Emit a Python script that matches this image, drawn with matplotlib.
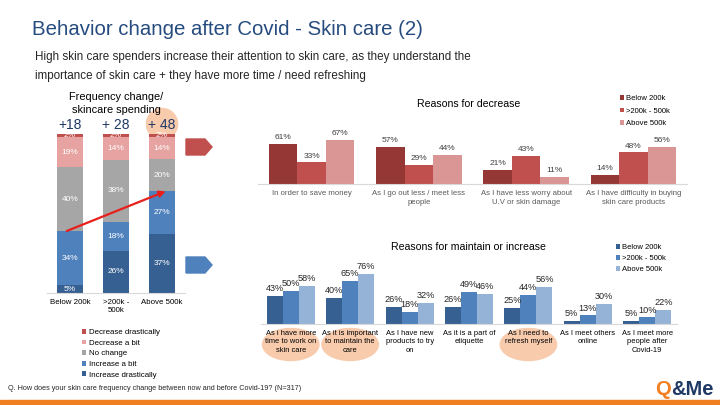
import matplotlib
matplotlib.use('Agg')
import matplotlib.pyplot as plt
from matplotlib.patches import Ellipse, Polygon, Rectangle
from matplotlib.transforms import blended_transform_factory
import numpy as np

plt.rcParams['font.family'] = ['Liberation Sans', 'DejaVu Sans']

# ---------------- data ----------------
spend_groups = ['Below 200k', '>200k -\n500k', 'Above 500k']
freq_levels = ['Decrease drastically', 'Decrease a bit', 'No change',
               'Increase a bit', 'Increase drastically']
dec_drastic = [2, 2, 2]
dec_bit = [19, 14, 14]
no_change = [40, 38, 20]
inc_bit = [34, 18, 27]
inc_drastic = [5, 26, 37]
net_change = ['+18', '+ 28', '+ 48']

income_groups = ['Below 200k', '>200k - 500k', 'Above 500k']

dec_reasons = ['In order to save money',
               'As I go out less / meet less\npeople',
               'As I have less worry about\nU.V or skin damage',
               'As I have difficulty in buying\nskin care products']
dec_below = [61, 57, 21, 14]
dec_mid = [33, 29, 43, 48]
dec_above = [67, 44, 11, 56]

inc_reasons = ['As i have more\ntime to work on\nskin care',
               'As it is important\nto maintain the\ncare',
               'As I have new\nproducts to try\non',
               'As it is a part of\netiquette',
               'As I need to\nrefresh myself',
               'As I meet others\nonline',
               'As I meet more\npeople after\nCovid-19']
inc_below = [43, 40, 26, 26, 25, 5, 5]
inc_mid = [50, 65, 18, 49, 44, 13, 10]
inc_above = [58, 76, 32, 46, 56, 30, 22]
highlighted = [0, 1, 4]

# ---------------- figure ----------------
W, H = 720, 405
fig = plt.figure(figsize=(W / 100, H / 100), dpi=100)
fig.patch.set_facecolor('white')


def X(px):
    return px / W


def Y(py):
    return 1 - py / H


def rect(l, t, r, b):
    return [l / W, 1 - b / H, (r - l) / W, (b - t) / H]


NAVY = '#1F3864'
PEACH = '#F8CBAD'
ORANGE = '#F07F21'


def style_axis(ax):
    ax.patch.set_visible(False)
    for s in ['top', 'right', 'left']:
        ax.spines[s].set_visible(False)
    ax.spines['bottom'].set_color('#D9D9D9')
    ax.spines['bottom'].set_linewidth(0.8)
    ax.set_yticks([])
    ax.tick_params(axis='x', length=0)


# ---- titles ----
fig.text(X(32), Y(35), 'Behavior change after Covid - Skin care (2)',
         fontsize=14.7, color='#264B7E', va='baseline', ha='left')
fig.text(X(35), Y(60), 'High skin care spenders increase their attention to skin care, as they understand the',
         fontsize=8.4, color='#262626', va='baseline', ha='left')
fig.text(X(35), Y(79), 'importance of skin care + they have more time / need refreshing',
         fontsize=8.4, color='#262626', va='baseline', ha='left')

# ---- left stacked chart ----
axL = fig.add_axes(rect(47, 134, 185, 293))
style_axis(axL)
xL = np.arange(len(spend_groups))
stack_series = [inc_drastic, inc_bit, no_change, dec_bit, dec_drastic]
stack_names = freq_levels[::-1]
stack_colors = ['#376092', '#4F81BD', '#A6A6A6', '#E6A3A1', '#C0504D']
totals = np.sum(np.array(stack_series, dtype=float), axis=0)
bottom = np.zeros(len(spend_groups))
handles = {}
for vals, name, col in zip(stack_series, stack_names, stack_colors):
    h = np.array(vals, dtype=float) / totals * 100
    bars = axL.bar(xL, h, 0.565, bottom=bottom, color=col, label=name, zorder=2)
    handles[name] = bars
    for xi, b, hh, v in zip(xL, bottom, h, vals):
        axL.text(xi, b + hh / 2, f'{v}%', ha='center', va='center',
                 color='white', fontsize=6, zorder=3)
    bottom += h
axL.set_xlim(-0.5, 2.5)
axL.set_ylim(0, 100)
axL.set_xticks(xL, spend_groups, fontsize=5.7, linespacing=1.3)
axL.tick_params(axis='x', pad=4)

for xi, lab in zip(xL, net_change):
    axL.text(xi, 105.8, lab, ha='center', va='center', fontsize=10,
             color=NAVY, clip_on=False, zorder=4)
axL.add_patch(Ellipse((xL[-1], 106.3), 0.68, 19.5, color=PEACH,
                      zorder=1, clip_on=False))
y0 = inc_drastic[0] + inc_bit[0]
y1 = (inc_drastic[-1] + inc_bit[-1]) / totals[-1] * 100
axL.annotate('', xy=(2.08, y1), xytext=(-0.07, y0),
             arrowprops=dict(arrowstyle='-|>', color='#E8201C', lw=1.6,
                             mutation_scale=9, shrinkA=0, shrinkB=0),
             zorder=5)
fig.text(X(116), Y(103.5), 'Frequency change/\nskincare spending', ha='center',
         va='center', fontsize=7.9, color='black', linespacing=1.4)
axL.legend(handles=[handles[n] for n in freq_levels], labels=freq_levels,
           loc='upper left', bbox_to_anchor=(X(82), Y(329)),
           bbox_transform=fig.transFigure, frameon=False, fontsize=5.7,
           handlelength=0.55, handleheight=0.55, handletextpad=0.3,
           labelspacing=0.43, borderpad=0, borderaxespad=0)

# ---- pentagon arrows ----
for top, col in [(139, '#C0504D'), (257, '#4F81BD')]:
    pts = [(186, top), (205, top), (212, top + 8), (205, top + 16), (186, top + 16)]
    fig.add_artist(Polygon([(X(a), Y(b)) for a, b in pts], closed=True,
                           color=col, transform=fig.transFigure))

# ---- upper chart: reasons for decrease ----
axU = fig.add_axes(rect(258, 118.3, 687, 184))
style_axis(axU)
xU = np.arange(len(dec_reasons))
wU = 0.266
for off, vals, col, name in zip([-wU, 0, wU], [dec_below, dec_mid, dec_above],
                                ['#953735', '#C0504D', '#D99694'], income_groups):
    b = axU.bar(xU + off, vals, wU, color=col, label=name)
    axU.bar_label(b, labels=[f'{v}%' for v in vals], padding=2, fontsize=6,
                  color='#404040')
axU.set_xlim(-0.5, len(dec_reasons) - 0.5)
axU.set_ylim(0, 100)
axU.set_xticks(xU, dec_reasons, fontsize=5.6, color='#595959', linespacing=1.45)
axU.tick_params(axis='x', pad=4)
fig.text(X(469), Y(104), 'Reasons for decrease', ha='center', va='center',
         fontsize=7.6, color='black')
axU.legend(loc='upper left', bbox_to_anchor=(X(620), Y(95)),
           bbox_transform=fig.transFigure, frameon=False, fontsize=5.5,
           handlelength=0.55, handleheight=0.55, handletextpad=0.3,
           labelspacing=0.72, borderpad=0, borderaxespad=0)

# ---- lower chart: reasons for maintain or increase ----
axD = fig.add_axes(rect(261, 258.2, 677, 324))
style_axis(axD)
xD = np.arange(len(inc_reasons))
wD = 0.27
for off, vals, col, name in zip([-wD, 0, wD], [inc_below, inc_mid, inc_above],
                                ['#376092', '#4F81BD', '#95B3D7'], income_groups):
    b = axD.bar(xD + off, vals, wD, color=col, label=name)
    axD.bar_label(b, labels=[f'{v}%' for v in vals], padding=2, fontsize=6.6,
                  color='#262626')
axD.set_xlim(-0.5, len(inc_reasons) - 0.5)
axD.set_ylim(0, 100)
axD.set_xticks(xD, inc_reasons, fontsize=5.4, color='black', linespacing=1.35)
axD.tick_params(axis='x', pad=4)
fig.text(X(468), Y(247), 'Reasons for maintain or increase', ha='center',
         va='center', fontsize=7.6, color='black')
axD.legend(loc='upper left', bbox_to_anchor=(X(616), Y(244)),
           bbox_transform=fig.transFigure, frameon=False, fontsize=5.5,
           handlelength=0.55, handleheight=0.55, handletextpad=0.3,
           labelspacing=0.55, borderpad=0, borderaxespad=0)

# highlight ellipses behind selected labels
tr = blended_transform_factory(axD.transData, fig.transFigure)
for i in highlighted:
    fig.add_artist(Ellipse((xD[i], Y(344.5)), 0.95, 32 / H, color=PEACH,
                           transform=tr, zorder=-1))

# ---- footer ----
fig.text(X(8), Y(389), 'Q. How does your skin care frequency change between now and before Covid-19? (N=317)',
         fontsize=5.2, color='#262626', va='center', ha='left')
fig.add_artist(Rectangle((0, 0), 1, 5 / H, color=ORANGE,
                         transform=fig.transFigure))
q = fig.text(X(655), Y(395), 'Q', fontsize=14.5, fontweight='bold',
             color=ORANGE, va='baseline', ha='left')
fig.add_artist(plt.Annotation('&Me', xy=(1, 0), xycoords=q, va='bottom',
                              ha='left', fontsize=14.5, fontweight='bold',
                              color='#1F3864', annotation_clip=False))

fig.savefig('out.png', dpi=100, facecolor='white')
